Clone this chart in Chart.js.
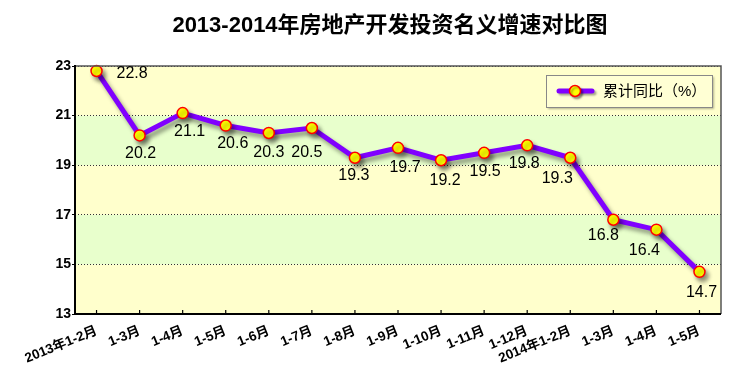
<!DOCTYPE html>
<html><head><meta charset="utf-8">
<script src="https://cdn.jsdelivr.net/npm/chart.js@4"></script>
<style>html,body{margin:0;padding:0;background:#fff}#wrap{width:737px;height:365px;position:relative}</style>
</head><body><div id="wrap"><canvas id="c" width="737" height="365"></canvas></div>
<script>
const categories = ['2013年1-2月','1-3月','1-4月','1-5月','1-6月','1-7月','1-8月','1-9月','1-10月','1-11月','1-12月','2014年1-2月','1-3月','1-4月','1-5月'];
const values = [22.8,20.2,21.1,20.6,20.3,20.5,19.3,19.7,19.2,19.5,19.8,19.3,16.8,16.4,14.7];
const yTicks = [13,15,17,19,21,23];
const titleText = '2013-2014年房地产开发投资名义增速对比图';
const seriesName = '累计同比（%）';
const FONT = '"Liberation Sans", Arial, "Noto Sans CJK SC", sans-serif';
const PURPLE = '#8000FF';

// label placement offsets relative to each point (style, not data)
const LABEL_OFFSETS = [[0,0],[1,18],[7,18],[7,18],[0,20],[-5,25],[-1,18],[7,20],[4,20],[1,19],[-3,18],[-13,21],[-10,16],[-12,21],[2,21]];

const decor = {
  id:'decor',
  beforeDraw(chart){
    const {ctx, chartArea:a, scales:{y}} = chart;
    ctx.save();
    for(let i=0;i<yTicks.length-1;i++){
      const t0=y.getPixelForValue(yTicks[i]), t1=y.getPixelForValue(yTicks[i+1]);
      ctx.fillStyle = (i%2===0)?'#FFFFCC':'#E8FFCC';
      ctx.fillRect(a.left,t1,a.right-a.left,t0-t1);
    }
    ctx.restore();
    ctx.save();
    ctx.font='bold 22px '+FONT; ctx.fillStyle='#000'; ctx.textAlign='center'; ctx.textBaseline='middle';
    ctx.fillText(titleText, 390, 26);
    ctx.restore();
  },
  beforeDatasetsDraw(chart){
    const {ctx}=chart;
    ctx.save();
    ctx.shadowColor='rgba(0,0,0,0.4)'; ctx.shadowOffsetX=3; ctx.shadowOffsetY=4; ctx.shadowBlur=4;
  },
  afterDatasetsDraw(chart){
    const {ctx, chartArea:a, scales:{x,y}} = chart;
    ctx.restore();
    ctx.save();
    ctx.strokeStyle='#555'; ctx.lineWidth=1.5;
    ctx.beginPath(); ctx.moveTo(a.left,a.top); ctx.lineTo(a.right,a.top); ctx.lineTo(a.right,a.bottom); ctx.stroke();
    ctx.strokeStyle='#000'; ctx.lineWidth=2;
    ctx.beginPath(); ctx.moveTo(a.left,a.top-1); ctx.lineTo(a.left,a.bottom); ctx.lineTo(a.right,a.bottom); ctx.stroke();
    ctx.lineWidth=1.2;
    categories.forEach((c,i)=>{const px=x.getPixelForValue(i); ctx.beginPath(); ctx.moveTo(px,a.bottom); ctx.lineTo(px,a.bottom-4); ctx.stroke();});
    ctx.font='16px '+FONT; ctx.fillStyle='#000'; ctx.textBaseline='middle';
    const meta=chart.getDatasetMeta(0);
    meta.data.forEach((pt,i)=>{
      const txt=values[i].toFixed(1);
      const [dx,dy]=LABEL_OFFSETS[i];
      if(i===0){ctx.textAlign='left'; ctx.fillText(txt,pt.x+20,pt.y+3);}
      else {ctx.textAlign='center'; ctx.fillText(txt,pt.x+dx,pt.y+dy);}
    });
    const lx=546, ly=75, lw=166, lh=32;
    ctx.save();
    ctx.shadowColor='rgba(0,0,0,0.3)'; ctx.shadowOffsetX=2; ctx.shadowOffsetY=2; ctx.shadowBlur=2;
    ctx.fillStyle='#FFFFD4'; ctx.fillRect(lx,ly,lw,lh);
    ctx.restore();
    ctx.strokeStyle='#888'; ctx.lineWidth=1; ctx.strokeRect(lx+0.5,ly+0.5,lw,lh);
    ctx.save();
    ctx.shadowColor='rgba(0,0,0,0.35)'; ctx.shadowOffsetX=2; ctx.shadowOffsetY=2; ctx.shadowBlur=2;
    ctx.strokeStyle=PURPLE; ctx.lineWidth=5; ctx.lineCap='round';
    ctx.beginPath(); ctx.moveTo(559,91); ctx.lineTo(592,91); ctx.stroke();
    ctx.beginPath(); ctx.arc(575,91,5.5,0,Math.PI*2); ctx.fillStyle='#FFFF00'; ctx.fill(); ctx.lineWidth=1.5; ctx.strokeStyle='#FF0000'; ctx.stroke();
    ctx.restore();
    ctx.font='15px '+FONT; ctx.fillStyle='#000'; ctx.textAlign='left'; ctx.textBaseline='middle';
    ctx.fillText(seriesName,603,92);
    ctx.restore();
  }
};

new Chart(document.getElementById('c'),{
  type:'line',
  data:{labels:categories,datasets:[{label:seriesName,data:values,borderColor:PURPLE,borderWidth:5,
    pointRadius:5.5,pointBackgroundColor:'#FFFF00',pointBorderColor:'#FF0000',pointBorderWidth:1.5,tension:0,clip:false}]},
  options:{
    responsive:false,animation:false,
    layout:{padding:{left:0,right:16,top:66,bottom:0}},
    plugins:{legend:{display:false},title:{display:false},tooltip:{enabled:false}},
    scales:{
      x:{type:'category',offset:true,
        grid:{display:false,offset:false},border:{display:false},
        ticks:{color:'#000',font:{family:FONT,size:13.5,weight:'bold'},minRotation:22,maxRotation:22,autoSkip:false,padding:1},
        afterFit(s){s.height=51;}},
      y:{min:13,max:23,
        afterBuildTicks(s){s.ticks=yTicks.map(v=>({value:v}));},
        afterFit(s){s.width=75;},
        grid:{color:'#333',lineWidth:1,tickLength:3,tickBorderDash:[],drawTicks:true,tickColor:'#000'},
        border:{display:false,dash:[1,2]},
        ticks:{color:'#000',font:{family:FONT,size:14,weight:'bold'},padding:1}
      }
    }
  },
  plugins:[decor]
});
</script></body></html>
